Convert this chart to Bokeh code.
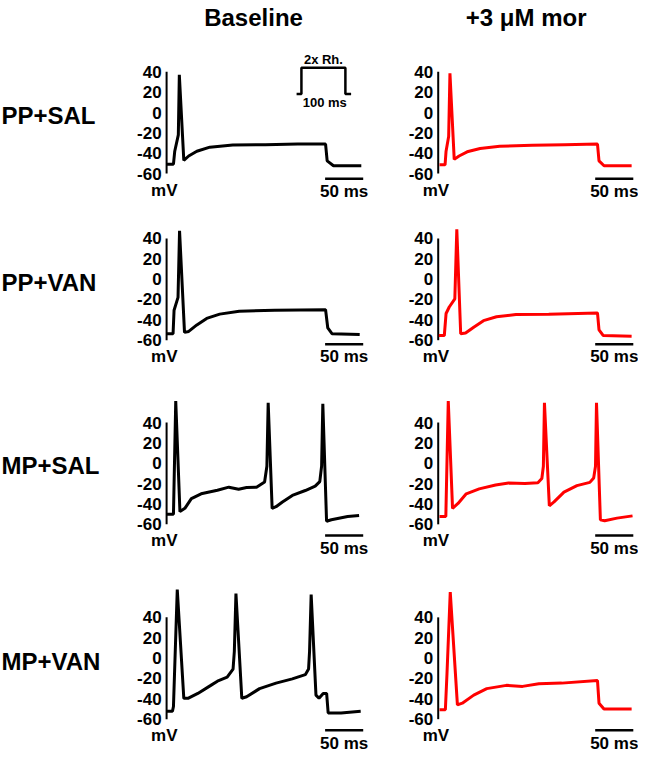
from bokeh.plotting import figure
from bokeh.models import Range1d
from bokeh.core.properties import value
from bokeh.embed import file_html
from bokeh.resources import INLINE

# ---------------- data ----------------
col_titles = ["Baseline", "+3 \u03bcM mor"]
row_labels = ["PP+SAL", "PP+VAN", "MP+SAL", "MP+VAN"]
tick_values = [-60, -40, -20, 0, 20, 40]
tick_labels = ["-60", "-40", "-20", "0", "20", "40"]
unit_label = "mV"
scale_bar_ms = 50
scale_bar_label = "50 ms"

# stimulus inset (schematic current step)
stim_t = [-11, 0, 0, 100, 100, 113]
stim_level = [0, 0, 1, 1, 0, 0]
stim_top_label = "2x Rh."
stim_bottom_label = "100 ms"

# membrane potential traces: time (ms), voltage (mV)
ppsal_base_t = [0, 9, 10.7, 15.4, 16.7, 22.6, 29, 39.7, 56.8, 86.8, 129.5, 172, 208.6, 210.7, 219, 255.5]
ppsal_base_v = [-50.7, -50.7, -38, -22, 37, -47, -42.7, -38, -34, -32, -31.6, -31, -31, -47.5, -52.3, -52.3]

ppsal_mor_t = [1.7, 9, 10.3, 13.7, 15.4, 21, 27.4, 38, 55, 80.8, 123.5, 166, 209, 211, 217.6, 253.8]
ppsal_mor_v = [-51.4, -51.4, -38, -23.6, 38.6, -46, -42.7, -38.6, -35.4, -33.2, -32.2, -31.6, -31, -47.5, -52.3, -52.3]

ppvan_base_t = [0.4, 8.5, 9.8, 15, 17, 23.5, 29, 39.7, 52.6, 69.7, 95.3, 142, 208.6, 211.5, 217, 253.4]
ppvan_base_v = [-53.6, -53.6, -30.6, -17.9, 47.5, -52.3, -51.4, -45, -38.6, -34.4, -31.6, -30.6, -30, -48, -53.6, -54.5]

ppvan_mor_t = [0.8, 8, 10.3, 14.5, 21.8, 24.4, 29.5, 35.9, 46.6, 59.4, 76.5, 102, 145, 209, 211, 216.6, 253.8]
ppvan_mor_v = [-55.5, -55.5, -33.8, -27.4, -19.5, 49, -53.6, -53, -47.2, -40.8, -37, -34.7, -34.4, -33.2, -49.8, -55.5, -56.1]

mpsal_base_t = [0, 9, 12, 17.5, 24, 32.5, 45.3, 66.7, 81.7, 94.5, 105, 118, 128.6, 131.6, 133.3, 138.5,
                143.6, 152, 165, 182, 195, 201, 203.4, 205, 209.9, 216.2, 237.6, 252.6]
mpsal_base_v = [-50, -50, 61, -47.5, -44.3, -34.7, -30, -26.5, -23.5, -25.5, -23.8, -23.5, -18.5, -2.9, 59.3, -44.3,
                -42.7, -38, -31.6, -26.8, -22.5, -18, -2.9, 58.4, -57, -55.5, -52.3, -51.4]

mpsal_mor_t = [1.7, 10, 13.2, 18.8, 26, 36.8, 53.8, 75.3, 92.3, 113.7, 130.8, 136, 138, 139.4, 145.8,
               152, 165, 182, 199, 204, 206.4, 207.7, 212.8, 218.4, 234.6, 255]
mpsal_mor_v = [-52.3, -52.3, 61, -44.3, -39.5, -30, -25.2, -21.4, -19.5, -19.8, -19.2, -15, -2.9, 59.3, -41.8,
               -38, -28.4, -22, -18.8, -14.5, -2.9, 59.3, -55.5, -56.5, -53.9, -51.7]

mpvan_base_t = [0.4, 7.7, 9, 14, 22.6, 28, 41, 58, 66.7, 79.5, 87.2, 88.9, 91, 98.7, 105, 122, 143.6, 165,
                182, 186.3, 187.6, 189.7, 196, 200, 205.5, 210, 212, 229, 254.7]
mpvan_base_v = [-52.3, -52.3, -47.5, 67.3, -39.5, -39.5, -34.7, -26.8, -22.7, -18.8, -10.8, 6.7, 63.4, -39.5, -38, -30, -24.6, -20.4,
                -16.3, -10.8, 6.7, 62.5, -36.4, -39.5, -34.7, -34.7, -53.9, -53.9, -52.3]

mpvan_mor_t = [1.7, 9.4, 11.5, 15.8, 25.2, 31.6, 46.6, 63.7, 89.4, 110.7, 132, 162, 209, 211, 217.5, 253.8]
mpvan_mor_v = [-50.7, -50.7, -15.6, 64.8, -46, -44.3, -36.4, -30, -26.8, -27.8, -25.2, -24.6, -22, -44.3, -50, -50]

traces = [
    (ppsal_base_t, ppsal_base_v), (ppsal_mor_t, ppsal_mor_v),
    (ppvan_base_t, ppvan_base_v), (ppvan_mor_t, ppvan_mor_v),
    (mpsal_base_t, mpsal_base_v), (mpsal_mor_t, mpsal_mor_v),
    (mpvan_base_t, mpvan_base_v), (mpvan_mor_t, mpvan_mor_v),
]
trace_colors = ["#000000", "#ff0000"]

# ---------------- layout (page pixel positions) ----------------
XL, XR = -1, 652      # page coordinate span shown horizontally
YB, YT = 777, 2       # page coordinate span shown vertically (y grows downward)
col_x0 = [169, 447]               # x of t = 0 for each column
row_y0 = [117, 288, 477, 677]     # y of 0 mV for each row
PX_PER_MS = 0.78
PX_PER_MV = 1.045
sb_start = [208, 206]             # scale bar start (ms) per column
sb_level = [-65, -64, -71, -71]   # scale bar level (mV) per row
title_x = [258, 537]
title_y = 19
row_label_y = [120, 291, 479, 680]

FONT = value("Liberation Sans")

p = figure(width=638, height=755, x_range=Range1d(XL, XR), y_range=Range1d(YB, YT),
           x_axis_type=None, y_axis_type=None, toolbar_location=None,
           output_backend="svg", min_border=0, outline_line_color=None)
p.background_fill_color = "white"
p.border_fill_color = "white"

# column titles and row labels
p.text(x=title_x, y=[title_y] * 2, text=col_titles, text_font=FONT, text_font_style="bold",
       text_font_size=value("24px"), text_align="center", text_baseline="middle", text_color="black")
p.text(x=[0] * 4, y=row_label_y, text=row_labels, text_font=FONT, text_font_style="bold",
       text_font_size=value("24px"), text_align="left", text_baseline="middle", text_color="black")

for i, (tt, vv) in enumerate(traces):
    r, c = divmod(i, 2)
    x0, y0 = col_x0[c], row_y0[r]
    xn, yn = f"t{i}", f"v{i}"
    p.extra_x_ranges[xn] = Range1d((XL - x0) / PX_PER_MS, (XR - x0) / PX_PER_MS)
    p.extra_y_ranges[yn] = Range1d((y0 - YB) / PX_PER_MV, (y0 - YT) / PX_PER_MV)
    kw = dict(x_range_name=xn, y_range_name=yn)

    # vertical axis line and labels
    p.line(x=[0, 0], y=[tick_values[0], tick_values[-1]], line_color="black", line_width=2, **kw)
    p.text(x=[0] * len(tick_values), y=tick_values, text=tick_labels, x_offset=-5,
           text_font=FONT, text_font_style="bold", text_font_size=value("17px"),
           text_align="right", text_baseline="middle", text_color="black", **kw)
    p.text(x=[-3], y=[tick_values[0] - 17 / PX_PER_MV], text=[unit_label],
           text_font=FONT, text_font_style="bold", text_font_size=value("17px"),
           text_align="center", text_baseline="middle", text_color="black", **kw)

    # time scale bar
    s0 = sb_start[c]
    p.line(x=[s0, s0 + scale_bar_ms], y=[sb_level[r]] * 2, line_color="black", line_width=2.5, **kw)
    p.text(x=[s0 + scale_bar_ms / 2], y=[sb_level[r] - 13 / PX_PER_MV], text=[scale_bar_label],
           text_font=FONT, text_font_style="bold", text_font_size=value("17px"),
           text_align="center", text_baseline="middle", text_color="black", **kw)

    # trace
    p.line(x=tt, y=vv, line_color=trace_colors[c], line_width=3, **kw)

# stimulus inset on the first panel
ST_X0, ST_PX_PER_MS = 307, 0.45
ST_Y0, ST_PX_PER_UNIT = 98, 27
p.extra_x_ranges["st_t"] = Range1d((XL - ST_X0) / ST_PX_PER_MS, (XR - ST_X0) / ST_PX_PER_MS)
p.extra_y_ranges["st_i"] = Range1d((ST_Y0 - YB) / ST_PX_PER_UNIT, (ST_Y0 - YT) / ST_PX_PER_UNIT)
skw = dict(x_range_name="st_t", y_range_name="st_i")
p.line(x=stim_t, y=stim_level, line_color="black", line_width=2.5, **skw)
p.text(x=[50], y=[35 / ST_PX_PER_UNIT], text=[stim_top_label], text_font=FONT,
       text_font_style="bold", text_font_size=value("13px"), text_align="center",
       text_baseline="middle", text_color="black", **skw)
p.text(x=[53], y=[-9 / ST_PX_PER_UNIT], text=[stim_bottom_label], text_font=FONT,
       text_font_style="bold", text_font_size=value("13px"), text_align="center",
       text_baseline="middle", text_color="black", **skw)

open("out.html", "w").write(file_html(p, INLINE))
